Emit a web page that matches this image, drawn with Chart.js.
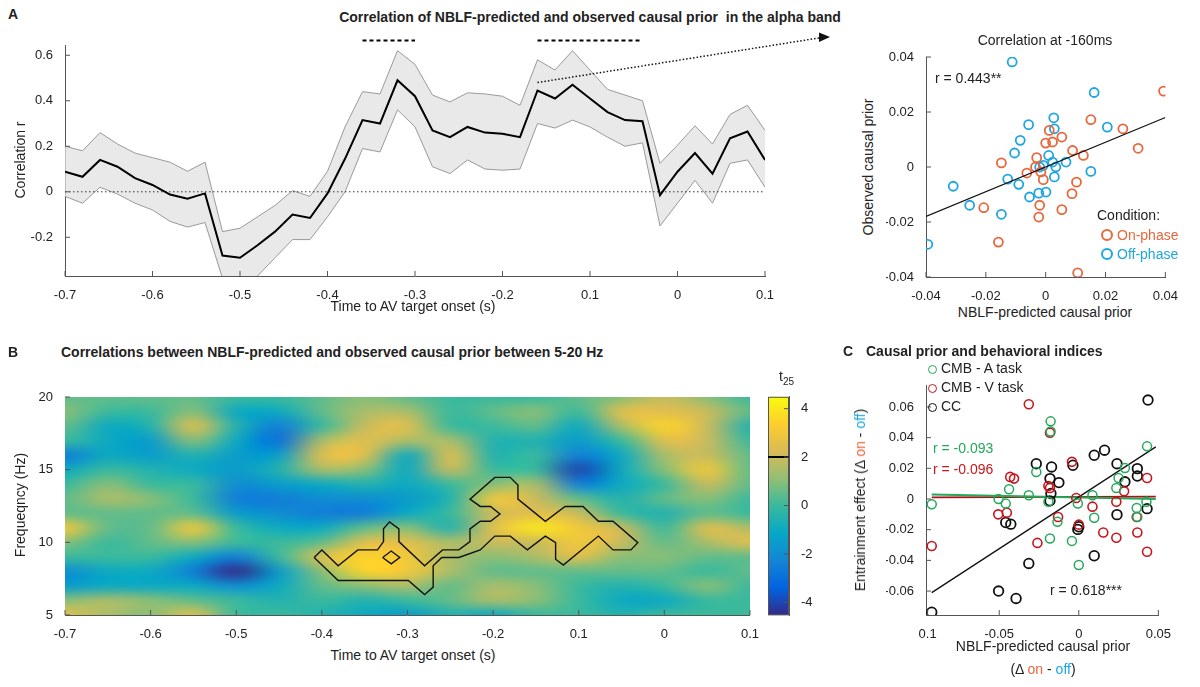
<!DOCTYPE html>
<html>
<head>
<meta charset="utf-8">
<script src="https://cdn.jsdelivr.net/npm/chart.js@4.4.1/dist/chart.umd.min.js"></script>
<style>
  body { margin: 0; background: #fff; font-family: "Liberation Sans", Arial, sans-serif; color: #222; }
  #page { position: relative; width: 1200px; height: 687px; overflow: hidden; }
  canvas { position: absolute; }
  .t { position: absolute; white-space: nowrap; font-size: 14px; line-height: 16px; }
  .b { font-weight: bold; }
  .c { transform: translateX(-50%); }
  .r { transform: translate(-50%, -50%) rotate(-90deg); }
  .ring { display: inline-block; width: 8px; height: 8px; border-radius: 50%; border: 2px solid; margin-right: 4px; vertical-align: -1px; }
</style>
</head>
<body>
<div id="page">
  <canvas id="cA"></canvas>
  <canvas id="cS"></canvas>
  <canvas id="cB"></canvas>
  <canvas id="cBar"></canvas>
  <canvas id="cC"></canvas>

  <div class="t b" style="left:8px;top:6px">A</div>
  <div class="t b c" style="left:590px;top:9px">Correlation of NBLF-predicted and observed causal prior&nbsp; in the alpha band</div>
  <div class="t r" style="left:20px;top:160px">Correlation r</div>
  <div class="t c" style="left:413px;top:298px">Time to AV target onset (s)</div>

  <div class="t c" style="left:1045px;top:32px">Correlation at -160ms</div>
  <div class="t" style="left:935px;top:70px">r = 0.443**</div>
  <div class="t r" style="left:868px;top:167px">Observed causal prior</div>
  <div class="t c" style="left:1045px;top:304px">NBLF-predicted causal prior</div>
  <div class="t" style="left:1097px;top:207px">Condition:</div>
  <div class="t" style="left:1101px;top:227px;color:#e8673c"><span class="ring"></span>On-phase</div>
  <div class="t" style="left:1101px;top:246px;color:#1ea6e0"><span class="ring"></span>Off-phase</div>

  <div class="t b" style="left:8px;top:344px">B</div>
  <div class="t b" style="left:61px;top:344px">Correlations between NBLF-predicted and observed causal prior between 5-20 Hz</div>
  <div class="t r" style="left:20px;top:505px">Frequeqncy (Hz)</div>
  <div class="t c" style="left:413px;top:647px">Time to AV target onset (s)</div>
  <div class="t" style="left:779px;top:368px">t<sub style="font-size:10px">25</sub></div>

  <div class="t b" style="left:843px;top:343px">C</div>
  <div class="t b" style="left:866px;top:343px">Causal prior and behavioral indices</div>
  <div class="t" style="left:928px;top:360px;color:#222"><span class="ring" style="color:#22a95a;border-width:1.5px;width:7px;height:7px"></span>CMB - A task</div>
  <div class="t" style="left:928px;top:379px;color:#222"><span class="ring" style="color:#c8161d;border-width:1.5px;width:7px;height:7px"></span>CMB - V task</div>
  <div class="t" style="left:928px;top:398px;color:#222"><span class="ring" style="color:#111;border-width:1.5px;width:7px;height:7px"></span>CC</div>
  <div class="t" style="left:933px;top:440px;color:#22a95a">r = -0.093</div>
  <div class="t" style="left:933px;top:461px;color:#c8161d">r = -0.096</div>
  <div class="t" style="left:1050px;top:582px">r = 0.618***</div>
  <div class="t r" style="left:860px;top:500px">Entrainment effect (Δ <span style="color:#e8673c">on</span> - <span style="color:#1ea6e0">off</span>)</div>
  <div class="t c" style="left:1043px;top:638px">NBLF-predicted causal prior</div>
  <div class="t c" style="left:1043px;top:661px">(Δ <span style="color:#e8673c">on</span> - <span style="color:#1ea6e0">off</span>)</div>
</div>
<script>
// ---- panel A: correlation time course ----
const times = [-0.70,-0.68,-0.66,-0.64,-0.62,-0.60,-0.58,-0.56,-0.54,-0.52,-0.50,-0.48,-0.46,-0.44,-0.42,-0.40,-0.38,-0.36,-0.34,-0.32,-0.30,
  -0.28,-0.26,-0.24,-0.22,-0.20,-0.18,-0.16,-0.14,-0.12,-0.10,-0.08,-0.06,-0.04,-0.02,0.00,0.02,0.04,0.06,0.08,0.10];
const meanR = [0.088,0.066,0.14,0.11,0.06,0.03,-0.012,-0.03,-0.007,-0.28,-0.29,-0.235,-0.175,-0.10,-0.115,-0.007,0.145,0.315,0.30,0.49,0.42,
  0.27,0.24,0.285,0.26,0.255,0.24,0.445,0.41,0.47,0.41,0.35,0.315,0.31,-0.015,0.088,0.17,0.08,0.235,0.265,0.14];
const upperR = [0.2,0.18,0.26,0.21,0.17,0.15,0.13,0.09,0.13,-0.175,-0.16,-0.11,-0.06,0.005,-0.02,0.09,0.285,0.44,0.43,0.62,0.56,
  0.425,0.395,0.435,0.43,0.42,0.38,0.58,0.535,0.62,0.535,0.45,0.425,0.40,0.125,0.205,0.29,0.21,0.34,0.38,0.27];
const lowerR = [-0.02,-0.05,0.02,-0.01,-0.05,-0.08,-0.13,-0.155,-0.135,-0.38,-0.45,-0.37,-0.29,-0.21,-0.21,-0.11,0.0,0.19,0.175,0.36,0.285,
  0.11,0.08,0.14,0.10,0.095,0.10,0.30,0.28,0.315,0.285,0.24,0.20,0.215,-0.15,-0.05,0.05,-0.05,0.125,0.14,0.02];
const sigWindows = [[-0.36, -0.30], [-0.16, -0.04]];
const sigLevel = 0.665;
const timeTicks = [-0.7,-0.6,-0.5,-0.4,-0.3,-0.2,-0.1,0,0.1];
const timeTickLabels = ['-0.7','-0.6','-0.5','-0.4','-0.3','-0.2','0.1','0','0.1'];
const rTicks = [-0.2,0,0.2,0.4,0.6];
const arrowFrom = [-0.16, 0.48];

// ---- panel A right: scatter at -160 ms ----
const onPhase = [[0.0394,0.0276],[0.0151,0.0172],[0.0258,0.0139],[0.0309,0.0068],[0.009,0.006],[0.0126,0.0042],[0.0054,0.0109],
  [0.0023,0.0091],[0,0.0087],[0.0012,0.0133],[-0.003,0.0034],[-0.0034,0],[-0.0063,-0.0022],[-0.0016,-0.0018],[-0.0008,-0.0046],
  [0.0103,-0.0055],[0.0088,-0.0097],[0.0054,-0.0155],[-0.0023,-0.0182],[-0.002,-0.0139],[-0.0148,0.0015],[-0.0207,-0.0148],
  [-0.0158,-0.0273],[0.0107,-0.0385]];
const offPhase = [[-0.0112,0.0382],[0.0162,0.0271],[0.0206,0.0145],[0.0027,0.0179],[0.0029,0.0139],[-0.0057,0.0154],[-0.0085,0.0097],
  [-0.0104,0.0051],[0.001,0.0042],[0.0023,0.0018],[-0.0008,0.0006],[-0.002,0],[0.0068,0.0018],[0.0034,0],[0.0029,-0.0036],
  [0.0151,-0.0016],[-0.009,-0.0063],[-0.0127,-0.0044],[-0.0054,-0.0109],[-0.0023,-0.0095],[0.0001,-0.0091],[-0.0148,-0.0172],
  [-0.0254,-0.0139],[-0.0309,-0.007],[-0.0394,-0.0281]];
const fitS = [[-0.04,-0.018],[0.04,0.018]];
const priorTicks = [-0.04,-0.02,0,0.02,0.04];

// ---- panel B: time-frequency t-map (rows 20 Hz -> 5 Hz, columns -0.7 -> 0.1 s) ----
const mapTimes = [-0.7,-0.65,-0.6,-0.55,-0.5,-0.45,-0.4,-0.35,-0.3,-0.25,-0.2,-0.15,-0.1,-0.05,0,0.05,0.1];
const mapFreqs = [20,19,18,17,16,15,14,13,12,11,10,9,8,7,6,5];
const heatT = [
  [0.5,0.5,0.5,0.5,0,0,0.5,1,0.5,0,0,0,0.5,1,2,1,0],
  [1,0,0,1,-1,-1,0.5,1.5,1.5,0,0.5,1,0,2.5,2.5,2,0.5],
  [0.5,-1,-0.5,2.5,-0.5,-2.5,0,2,2.5,0,0,0.5,-1,1.5,3.5,2,-0.5],
  [0,-1,-1.5,1,-1,-3,1.5,2.5,1.5,1.5,-0.5,-0.5,-1.5,0,2.5,2,0],
  [-2.5,-1,-1.5,-0.5,-1.5,-1.5,2.5,2.5,-1,2.5,-0.5,0,-2.5,-1,1.5,2,0.5],
  [-1,0,-0.5,-1,-1.5,-0.5,1.5,1,-1,2,0,0,-4,-1,1,3,0.5],
  [0,1,0,0,-2,-1.5,-1,-0.5,-1,0,1,1.5,-2.5,-1,0,2,0.5],
  [0.5,1.5,1,0,-2.5,-2.5,-2,-2,-1.5,-0.5,3,2,0.5,-0.5,0.5,1,0],
  [0.5,0.5,0.5,0.5,-1.5,-2,-2.5,-2.5,-1,0,2,2.5,2,0,-0.5,0.5,0],
  [3,0.5,0.5,3,0,-1,-1,0.5,1,-0.5,2.5,4,3,2,0,2.5,1.5],
  [1,0,0.5,1,0,0,0.5,2.5,2.5,1.5,2,2,3,2,0.5,1.5,2.5],
  [0,0,0,-1,-2.5,0,2.5,3.5,3,1.5,1,1.5,2.5,1,1,0.5,0.5],
  [-2,-1,-1,-2.5,-4.5,-1.5,1,3.5,3,1.5,0.5,0.5,0.5,0.5,0.5,0,0.5],
  [-1.5,-1,-1,-1,-2,-1,0.5,1,1.5,0.5,1.5,1,0,-0.5,0,1,0],
  [1,1.5,1,0.5,0,-0.5,0,-0.5,0,0.5,1.5,1,0,-1,-1,0,0],
  [2.5,1.5,1,2.5,0,0,-0.5,-1,-1.5,-0.5,-1,0,0,-0.5,0,0,0]
];
const cluster = [[-0.409,8.96],[-0.40,9.48],[-0.381,8.39],[-0.358,9.48],[-0.335,9.48],[-0.328,10.05],[-0.328,10.93],[-0.321,11.41],
  [-0.310,10.93],[-0.310,10.05],[-0.280,8.39],[-0.259,9.48],[-0.240,9.48],[-0.227,10.05],[-0.227,10.93],[-0.215,11.45],[-0.203,11.45],
  [-0.192,11.95],[-0.203,12.47],[-0.215,12.47],[-0.227,12.97],[-0.198,14.47],[-0.180,14.47],[-0.171,13.95],[-0.171,12.97],
  [-0.139,11.45],[-0.116,12.47],[-0.095,12.47],[-0.077,11.45],[-0.060,11.45],[-0.031,9.98],[-0.039,9.48],[-0.060,9.48],
  [-0.077,10.43],[-0.118,8.44],[-0.127,8.84],[-0.127,9.98],[-0.139,10.43],[-0.160,9.48],[-0.180,10.43],[-0.198,10.43],
  [-0.215,9.48],[-0.240,8.96],[-0.260,8.96],[-0.270,8.39],[-0.270,6.92],[-0.280,6.40],[-0.299,7.37],[-0.381,7.37],[-0.409,8.96]];
const clusterHole = [[-0.329,8.96],[-0.319,9.4],[-0.309,8.96],[-0.319,8.52],[-0.329,8.96]];
const freqTicks = [5,10,15,20];
const tRange = [-4.53, 4.49];
const tTicks = [-4,-2,0,2,4];
const tThreshold = 2;

// ---- panel C: behavioural indices ----
const cmbA = [[-0.0924,-0.0034],[-0.0504,0],[-0.0459,-0.003],[-0.0438,0.0063],[-0.0267,0.0176],[-0.0314,0.0025],[-0.0177,0.0506],
  [-0.0177,0.044],[-0.0191,-0.0018],[-0.0181,-0.0257],[-0.0134,-0.0149],[-0.0043,-0.0273],[0,-0.043],[-0.0006,-0.0029],
  [0.0097,-0.0122],[0.0086,0.0025],[0.0236,0.0072],[0.025,0.0137],[0.029,0.0202],[0.0364,-0.0059],[0.0368,-0.0117],
  [0.0425,-0.0018],[0.0429,0.0343]];
const cmbV = [[-0.0924,-0.0306],[-0.0314,0.0618],[-0.0181,0.0432],[-0.0506,-0.01],[-0.0452,-0.0089],[-0.0431,0.0144],[-0.0407,0.0133],
  [-0.026,-0.0286],[-0.0191,0.0085],[-0.0181,0.0072],[-0.013,-0.0117],[-0.0043,0.0242],[-0.0016,0.0007],[0,-0.0167],
  [0.0086,-0.005],[0.0154,-0.0218],[0.0236,-0.0253],[0.0236,-0.0018],[0.0285,0.005],[0.0364,-0.0117],[0.0368,-0.0218],
  [0.0429,0.0137],[0.0429,-0.0344]];
const ccIdx = [[-0.0924,-0.0738],[-0.0504,-0.06],[-0.0394,-0.0648],[-0.0459,-0.0153],[-0.0427,-0.0164],[-0.0314,-0.042],
  [-0.0267,0.023],[-0.0171,0.0209],[-0.0181,0.0133],[-0.0175,0.0036],[-0.0181,-0.0012],[-0.0125,0.0107],[-0.0037,0.022],
  [-0.0006,-0.0198],[0,-0.0181],[0.0097,0.0285],[0.0162,0.0318],[0.0097,-0.037],[0.024,0.023],[0.024,-0.0102],[0.029,0.0112],
  [0.0368,0.0198],[0.0368,0.015],[0.0429,-0.0063],[0.0435,0.0645]];
const fitA = [[-0.0924,0.003],[0.0484,0.0]];
const fitV = [[-0.0924,0.001],[0.0484,0.0015]];
const fitCC = [[-0.0924,-0.061],[0.0484,0.034]];
const deltaTicks = [-0.095,-0.05,0,0.05];
const deltaTickLabels = ['0.1','-0.05','0','0.05'];
const effectTicks = [-0.06,-0.04,-0.02,0,0.02,0.04,0.06];

// ---------------- helpers ----------------
const FONT = { family: '"Liberation Sans", Arial, sans-serif', size: 13 };
Chart.defaults.font = FONT;
Chart.defaults.color = '#222';
Chart.defaults.animation = false;
Chart.defaults.plugins.legend.display = false;
Chart.defaults.plugins.tooltip.enabled = false;

const parula = [[53,42,135],[3,99,225],[20,133,212],[6,167,198],[56,185,158],[146,191,115],[217,186,86],[252,206,46],[249,251,14]];
function parulaColor(v) {
  let f = (v - tRange[0]) / (tRange[1] - tRange[0]);
  f = Math.max(0, Math.min(1, f)) * (parula.length - 1);
  const i = Math.min(Math.floor(f), parula.length - 2), k = f - i;
  const a = parula[i], b = parula[i + 1];
  return [0, 1, 2].map(j => Math.round(a[j] + (b[j] - a[j]) * k));
}

function place(id, left, top, w, h) {
  const c = document.getElementById(id);
  c.style.left = left + 'px'; c.style.top = top + 'px';
  c.style.width = w + 'px'; c.style.height = h + 'px';
  c.width = w; c.height = h;
  return c;
}

function pts(arr) { return arr.map(p => ({ x: p[0], y: p[1] })); }

// fixed tick positions and inward MATLAB-like ticks
function fixedTicks(values, labels) {
  return {
    afterBuildTicks: s => { s.ticks = values.map(v => ({ value: v })); },
    ticks: {
      autoSkip: false, maxRotation: 0, padding: 4, color: '#222', font: FONT,
      callback: (v, i) => labels ? labels[i] : String(v)
    }
  };
}
function xScale(min, max, values, labels) {
  return Object.assign({
    type: 'linear', min, max,
    grid: { display: false }, border: { display: true, color: '#555' },
    afterFit: s => { s.height = 25; }
  }, fixedTicks(values, labels));
}
function yScale(min, max, values, labels, width) {
  return Object.assign({
    type: 'linear', min, max,
    grid: { display: false }, border: { display: true, color: '#555' },
    afterFit: s => { s.width = width || 40; }
  }, fixedTicks(values, labels));
}
const inwardTicks = {
  id: 'inwardTicks',
  afterDraw(chart) {
    const ctx = chart.ctx, a = chart.chartArea;
    ctx.save(); ctx.strokeStyle = '#555'; ctx.lineWidth = 1;
    const x = chart.scales.x, y = chart.scales.y;
    if (x && x.options.display !== false) x.ticks.forEach(t => {
      const px = x.getPixelForValue(t.value);
      ctx.beginPath(); ctx.moveTo(px, a.bottom); ctx.lineTo(px, a.bottom - 5); ctx.stroke();
    });
    if (y) y.ticks.forEach(t => {
      const py = y.getPixelForValue(t.value);
      const base = y.position === 'right' ? a.right : a.left;
      const dir = y.position === 'right' ? -1 : 1;
      ctx.beginPath(); ctx.moveTo(base, py); ctx.lineTo(base + dir * 5, py); ctx.stroke();
    });
    ctx.restore();
  }
};

function ring(data, color, r, w) {
  return { data: pts(data), showLine: false, pointStyle: 'circle', pointRadius: r || 4.5,
    pointBorderWidth: w || 1.8, pointBorderColor: color, pointBackgroundColor: 'rgba(0,0,0,0)' };
}
function line(data, color, w) {
  return { data: pts(data), showLine: true, pointRadius: 0, borderColor: color, borderWidth: w || 1.2, fill: false };
}

// ---------------- panel A line ----------------
place('cA', 25, 30, 815, 271);
const zip = vals => times.map((t, i) => ({ x: t, y: vals[i] }));
new Chart('cA', {
  type: 'scatter',
  data: { datasets: [
    { data: zip(upperR), showLine: true, pointRadius: 0, borderColor: '#999', borderWidth: 1, fill: false, order: 3 },
    { data: zip(lowerR), showLine: true, pointRadius: 0, borderColor: '#999', borderWidth: 1, order: 3,
      fill: '-1', backgroundColor: 'rgba(225,225,225,0.75)' },
    { data: [{ x: times[0], y: 0 }, { x: times[times.length - 1], y: 0 }], showLine: true, pointRadius: 0,
      borderColor: '#333', borderWidth: 1, borderDash: [1.5, 2.5], order: 2 },
    { data: zip(meanR), showLine: true, pointRadius: 0, borderColor: '#000', borderWidth: 2, order: 1 },
    ...sigWindows.map(w => ({ data: [{ x: w[0], y: sigLevel }, { x: w[1], y: sigLevel }], showLine: true, pointRadius: 0,
      borderColor: '#000', borderWidth: 2, borderDash: [4, 3], clip: false, order: 0 }))
  ] },
  options: {
    responsive: false,
    layout: { padding: { top: 15, right: 75, left: 0, bottom: 0 } },
    scales: { x: xScale(-0.7, 0.1, timeTicks, timeTickLabels), y: yScale(-0.37, 0.645, rTicks) }
  },
  plugins: [inwardTicks, {
    id: 'arrow',
    afterDraw(chart) {
      const ctx = chart.ctx, a = chart.chartArea;
      const x0 = chart.scales.x.getPixelForValue(arrowFrom[0]), y0 = chart.scales.y.getPixelForValue(arrowFrom[1]);
      const x1 = chart.width - 10, y1 = a.top - 8;
      ctx.save(); ctx.strokeStyle = '#111'; ctx.lineWidth = 1.5; ctx.setLineDash([1.5, 2]);
      ctx.beginPath(); ctx.moveTo(x0, y0); ctx.lineTo(x1 - 8, y1 + 0.5); ctx.stroke();
      ctx.setLineDash([]); ctx.fillStyle = '#111';
      ctx.beginPath(); ctx.moveTo(x1, y1); ctx.lineTo(x1 - 11, y1 - 4.5); ctx.lineTo(x1 - 11, y1 + 5); ctx.closePath(); ctx.fill();
      ctx.restore();
    }
  }]
});

// ---------------- panel A scatter ----------------
place('cS', 886, 42, 296, 260);
new Chart('cS', {
  type: 'scatter',
  data: { datasets: [line(fitS, '#111', 1.2), ring(onPhase, '#e8673c'), ring(offPhase, '#1ea6e0')] },
  options: {
    responsive: false,
    layout: { padding: { top: 15, right: 15, left: 0, bottom: 0 } },
    scales: { x: xScale(-0.04, 0.04, priorTicks), y: yScale(-0.04, 0.04, priorTicks) }
  },
  plugins: [inwardTicks]
});

// ---------------- panel B heat map ----------------
place('cB', 25, 382, 738, 258);
const heatImg = document.createElement('canvas');
heatImg.width = mapTimes.length; heatImg.height = mapFreqs.length;
(function () {
  const g = heatImg.getContext('2d'), img = g.createImageData(heatImg.width, heatImg.height);
  heatT.forEach((row, r) => row.forEach((v, c) => {
    const col = parulaColor(v), k = (r * heatImg.width + c) * 4;
    img.data[k] = col[0]; img.data[k + 1] = col[1]; img.data[k + 2] = col[2]; img.data[k + 3] = 255;
  }));
  g.putImageData(img, 0, 0);
})();
new Chart('cB', {
  type: 'scatter',
  data: { datasets: [line(cluster, '#111', 1.4), line(clusterHole, '#111', 1.4)] },
  options: {
    responsive: false,
    layout: { padding: { top: 15, right: 0, left: 0, bottom: 0 } },
    scales: { x: xScale(-0.7, 0.1, timeTicks, timeTickLabels), y: yScale(5, 20, freqTicks) }
  },
  plugins: [inwardTicks, {
    id: 'heat',
    beforeDatasetsDraw(chart) {
      const ctx = chart.ctx, a = chart.chartArea, x = chart.scales.x, y = chart.scales.y;
      const dt = (mapTimes[1] - mapTimes[0]) / 2, df = (mapFreqs[0] - mapFreqs[1]) / 2;
      const x0 = x.getPixelForValue(mapTimes[0] - dt), x1 = x.getPixelForValue(mapTimes[mapTimes.length - 1] + dt);
      const y0 = y.getPixelForValue(mapFreqs[0] + df), y1 = y.getPixelForValue(mapFreqs[mapFreqs.length - 1] - df);
      ctx.save();
      ctx.beginPath(); ctx.rect(a.left, a.top, a.right - a.left, a.bottom - a.top); ctx.clip();
      ctx.imageSmoothingEnabled = true; ctx.imageSmoothingQuality = 'high';
      ctx.drawImage(heatImg, x0, y0, x1 - x0, y1 - y0);
      ctx.restore();
    }
  }]
});

// colour bar
place('cBar', 768, 385, 47, 242);
new Chart('cBar', {
  type: 'scatter',
  data: { datasets: [line([[0, tThreshold], [1, tThreshold]], '#000', 2)] },
  options: {
    responsive: false,
    layout: { padding: { top: 10, right: 0, left: 0, bottom: 10 } },
    scales: {
      x: { type: 'linear', min: 0, max: 1, display: false },
      y: Object.assign(yScale(tRange[0], tRange[1], tTicks, null, 26), { position: 'right' })
    }
  },
  plugins: [inwardTicks, {
    id: 'bar',
    beforeDatasetsDraw(chart) {
      const ctx = chart.ctx, a = chart.chartArea, y = chart.scales.y;
      const grad = ctx.createLinearGradient(0, y.getPixelForValue(tRange[0]), 0, y.getPixelForValue(tRange[1]));
      parula.forEach((c, i) => grad.addColorStop(i / (parula.length - 1), `rgb(${c[0]},${c[1]},${c[2]})`));
      ctx.save(); ctx.fillStyle = grad; ctx.fillRect(a.left, a.top, a.right - a.left, a.bottom - a.top);
      ctx.strokeStyle = '#555'; ctx.strokeRect(a.left + 0.5, a.top + 0.5, a.right - a.left - 1, a.bottom - a.top - 1);
      ctx.restore();
    }
  }]
});

// ---------------- panel C ----------------
place('cC', 886, 370, 289, 270);
new Chart('cC', {
  type: 'scatter',
  data: { datasets: [
    ring(cmbA, '#22a95a', 4.5, 1.5), ring(cmbV, '#c8161d', 4.5, 1.6), ring(ccIdx, '#111', 4.8, 1.8),
    line(fitCC, '#111', 1.3), line(fitA, '#22a95a', 2), line(fitV, '#a8141a', 1.8)
  ] },
  options: {
    responsive: false,
    layout: { padding: { top: 15, right: 15, left: 0, bottom: 0 } },
    scales: { x: xScale(-0.096, 0.05, deltaTicks, deltaTickLabels), y: yScale(-0.0756, 0.0743, effectTicks) }
  },
  plugins: [inwardTicks]
});
</script>
</body>
</html>
